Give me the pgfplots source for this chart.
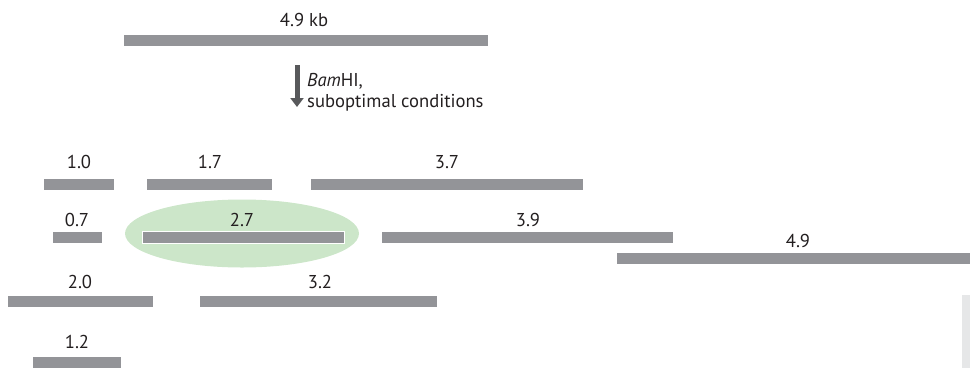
\documentclass[border=0pt]{standalone}
\usepackage{pgfplots}
\pgfplotsset{compat=1.18}
\usepackage{fontspec}
\setmainfont{PT Sans}
\usetikzlibrary{arrows.meta}
\definecolor{bargray}{RGB}{147,148,152}
\definecolor{txt}{RGB}{35,31,32}
\definecolor{ellgreen}{RGB}{204,230,201}
\definecolor{arrgray}{RGB}{88,89,91}
\definecolor{boxgray}{RGB}{230,231,232}
\tikzset{lbl/.style={font=\fontsize{18.6bp}{21bp}\selectfont, text=txt, anchor=base, inner sep=0pt}}
\begin{document}
\begin{tikzpicture}
\begin{axis}[
  width=970bp, height=367bp, scale only axis,
  xmin=0, xmax=970, ymin=0, ymax=367, y dir=reverse,
  hide axis, clip=true,
  frag/.style={bargray, solid, line width=11bp, line cap=butt, mark=none},
]
% light gray box at the lower right
\fill[boxgray] (axis cs:962,295) rectangle (axis cs:971,368);
% highlight ellipse
\fill[ellgreen] (axis cs:242,233.5) ellipse [x radius=117bp, y radius=34bp];
% uncut plasmid
\addplot[frag] coordinates {(124,40.5) (488,40.5)};
% row 1
\addplot[frag] coordinates {(44,184) (114,184)};
\addplot[frag] coordinates {(147,184) (272,184)};
\addplot[frag] coordinates {(311,184) (583,184)};
% row 2
\addplot[frag] coordinates {(53,237.2) (102,237.2)};
\addplot[frag, white, line width=13bp] coordinates {(142,237.2) (345,237.2)};
\addplot[frag] coordinates {(143,237.2) (344,237.2)};
\addplot[frag] coordinates {(382,237.2) (673,237.2)};
% row 3
\addplot[frag] coordinates {(617,258.7) (975,258.7)};
% row 4
\addplot[frag] coordinates {(8,301) (153,301)};
\addplot[frag] coordinates {(200,301) (437,301)};
% row 5
\addplot[frag] coordinates {(33,362.5) (121,362.5)};
% arrow
\draw[arrgray, line width=5bp, -{Triangle[width=13bp,length=9bp]}] (axis cs:297,65) -- (axis cs:297,107);
% labels
\node[lbl] at (axis cs:304,27) {4.9 kb};
\node[lbl, anchor=base west] at (axis cs:307,86) {\textit{Bam}HI,};
\node[lbl, anchor=base west] at (axis cs:307,107) {suboptimal conditions};
\node[lbl] at (axis cs:79,168) {1.0};
\node[lbl] at (axis cs:210,168) {1.7};
\node[lbl] at (axis cs:447,168) {3.7};
\node[lbl] at (axis cs:77,226) {0.7};
\node[lbl] at (axis cs:242,226) {2.7};
\node[lbl] at (axis cs:528,226) {3.9};
\node[lbl] at (axis cs:798,247) {4.9};
\node[lbl] at (axis cs:80,288) {2.0};
\node[lbl] at (axis cs:320,288) {3.2};
\node[lbl] at (axis cs:77,348) {1.2};
\end{axis}
\pgfresetboundingbox
\path (current axis.south west) rectangle (current axis.north east);
\end{tikzpicture}
\end{document}
